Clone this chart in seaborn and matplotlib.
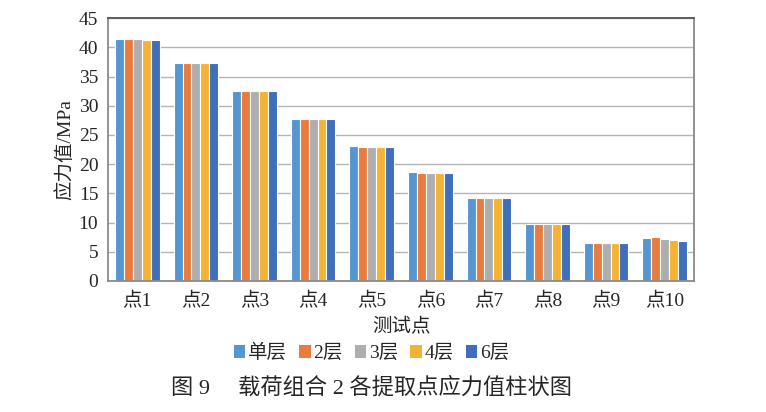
import pandas as pd
import seaborn as sns
import matplotlib.pyplot as plt
from matplotlib.patches import Patch

# data
points = ["点1", "点2", "点3", "点4", "点5", "点6", "点7", "点8", "点9", "点10"]
layers = ["单层", "2层", "3层", "4层", "6层"]
single = [41.5, 37.3, 32.5, 27.7, 23.1, 18.6, 14.2, 9.8, 6.5, 7.4]
layer2 = [41.4, 37.3, 32.5, 27.7, 23.0, 18.5, 14.2, 9.8, 6.5, 7.6]
layer3 = [41.4, 37.3, 32.5, 27.7, 23.0, 18.5, 14.2, 9.8, 6.5, 7.2]
layer4 = [41.3, 37.3, 32.5, 27.7, 23.0, 18.5, 14.2, 9.8, 6.5, 7.05]
layer6 = [41.3, 37.3, 32.5, 27.7, 22.9, 18.5, 14.2, 9.8, 6.5, 6.9]
colors = ["#5596D0", "#E97B3E", "#AEAEAE", "#F5B335", "#3F6FBA"]

rows = []
for name, vals in zip(layers, [single, layer2, layer3, layer4, layer6]):
    for p, v in zip(points, vals):
        rows.append({"测试点": p, "层数": name, "应力值": v})
df = pd.DataFrame(rows)

sns.set_theme(style="white")
plt.rcParams["font.family"] = ["Liberation Serif", "Noto Sans CJK SC"]

fig = plt.figure(figsize=(7.66, 4.12), dpi=100)
ax = fig.add_axes([0.141, 0.318, 0.765, 0.638])

sns.barplot(data=df, x="测试点", y="应力值", hue="层数", hue_order=layers,
            palette=colors, width=0.76, edgecolor="white", linewidth=0.8,
            saturation=1, ax=ax, legend=False)

ax.set_ylim(0, 45)
ax.set_yticks(range(0, 46, 5))
ax.set_xlim(-0.5, 9.5)
ax.yaxis.grid(True, color="#B4B4B4", linewidth=1.0)
ax.set_axisbelow(True)
for s in ax.spines.values():
    s.set_visible(True)
    s.set_color("#8A8A8A")
    s.set_linewidth(1.3)
ax.spines["top"].set_color("#555555")
ax.tick_params(axis="y", length=4, width=1, color="#8A8A8A", labelsize=14, pad=3)
ax.tick_params(axis="x", length=0, labelsize=14, pad=8)
ax.set_ylabel("应力值/MPa", fontsize=14, labelpad=3)
ax.set_xlabel("测试点", fontsize=14, labelpad=6)

handles = [Patch(facecolor=c, edgecolor="none") for c in colors]
fig.legend(handles, layers, loc="center", bbox_to_anchor=(0.485, 0.143),
           ncol=5, frameon=False, fontsize=14, handlelength=0.6,
           handleheight=0.6, handletextpad=0.15, columnspacing=0.6)

fig.text(0.485, 0.058, "图 9     载荷组合 2 各提取点应力值柱状图", ha="center",
         va="center", fontsize=16)

fig.savefig("out.png", dpi=100)
